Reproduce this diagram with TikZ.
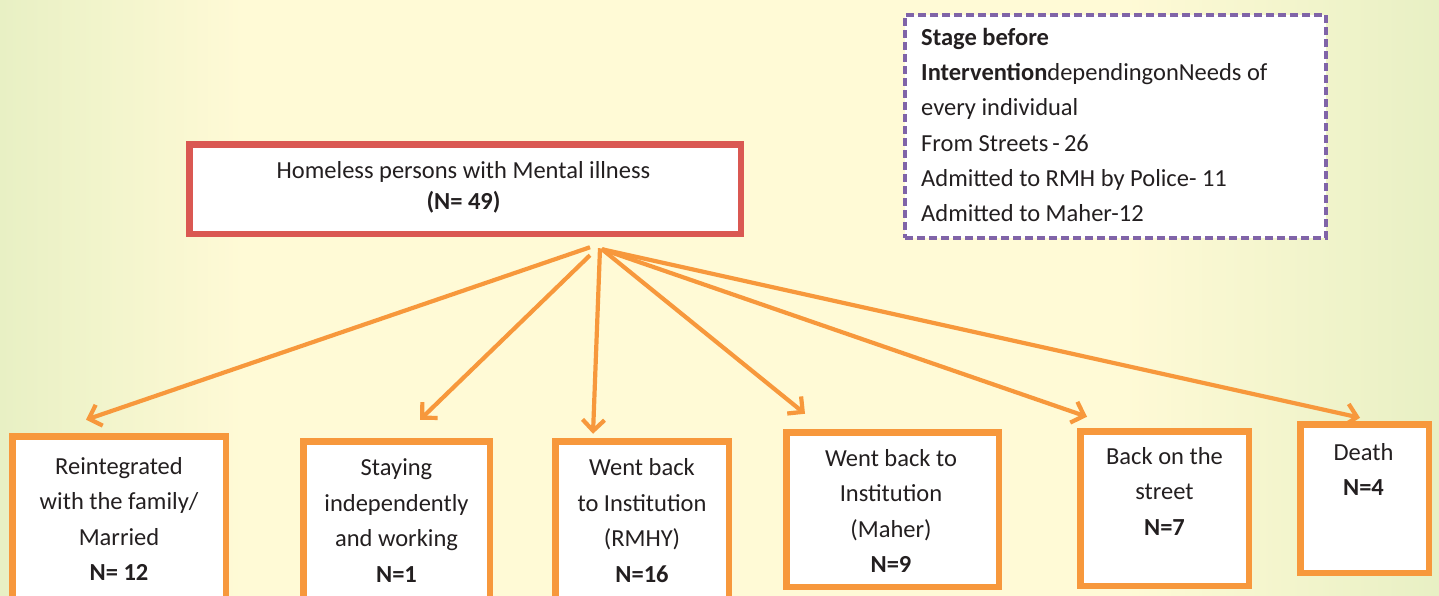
\documentclass[tikz,border=0pt]{standalone}
\usepackage{fontspec}
\setmainfont{Carlito}
\usetikzlibrary{arrows.meta,calc}
\definecolor{bgg}{RGB}{232,240,196}
\definecolor{bgy}{RGB}{255,250,214}
\definecolor{orangeC}{RGB}{247,152,60}
\definecolor{redC}{RGB}{218,88,82}
\definecolor{purpC}{RGB}{128,100,168}
\definecolor{txt}{RGB}{35,31,32}
\pgfdeclarehorizontalshading{bgshade}{100bp}{color(0bp)=(bgg); color(25bp)=(bgg); color(33.5bp)=(bgy); color(64bp)=(bgy); color(75bp)=(bgg); color(100bp)=(bgg)}
\tikzset{
  obox/.style={draw=orangeC, line width=6.5pt, fill=white, inner sep=0pt},
  mainbox/.style={draw=redC, line width=6.5pt, fill=white, inner sep=0pt},
  legbox/.style={draw=purpC, line width=4pt, fill=white, inner sep=0pt, dash pattern=on 8pt off 4pt},
  btext/.style={text=txt, inner sep=0pt, anchor=north, align=center, font=\fontsize{24.5}{35.5}\selectfont},
  conn/.style={draw=orangeC, line width=4.2pt, -{Straight Barb[length=11pt,width=22pt,line width=4.2pt]}}
}
\begin{document}
\begin{tikzpicture}[x=1pt,y=-1pt]
\useasboundingbox (0,0) rectangle (1439,595);
\clip (0,0) rectangle (1439,595);
\shade[shading=bgshade] (0,0) rectangle (1439,595);

% main box
\node[mainbox, minimum width=551.5pt, minimum height=89.5pt] (main) at (465,189) {};
\node[text=txt, inner sep=0pt, anchor=north, align=center, font=\fontsize{24.5}{31}\selectfont] (maintext) at (463.5,178-21.7)
  {\strut Homeless persons with Mental illness\\ \textbf{(N= 49)}};

% legend
\node[legbox, minimum width=421pt, minimum height=223pt] (legend) at (1115.5,126.5) {};
\node[text=txt, inner sep=0pt, anchor=north west, align=left, font=\fontsize{24.5}{35.3}\selectfont] (legtext) at (921,45-24.71)
  {\strut\textbf{Stage before}\\ \textbf{Intervention}dependingonNeeds of\\ every individual\\ From Streets\,-\,26\\ Admitted to RMH by Police- 11\\ Admitted to Maher-12};

% outcome boxes
\node[obox, minimum width=213.5pt, minimum height=165.5pt] (b1) at (119,519) {};
\node[obox, minimum width=186.5pt, minimum height=160.5pt] (b2) at (396.5,521.5) {};
\node[obox, minimum width=173.5pt, minimum height=160.5pt] (b3) at (642,521.5) {};
\node[obox, minimum width=212.5pt, minimum height=154.5pt] (b4) at (892.5,509.5) {};
\node[obox, minimum width=168.5pt, minimum height=154.5pt] (b5) at (1164.5,508.5) {};
\node[obox, minimum width=128.5pt, minimum height=148.5pt] (b6) at (1364.5,498.5) {};

\node[btext] (t1) at (119,474-24.85) {\strut Reintegrated\\ with the family/\\ Married\\ \textbf{N= 12}};
\node[btext] (t2) at (396.5,475.5-24.85) {\strut Staying\\ independently\\ and working\\ \textbf{N=1}};
\node[btext] (t3) at (642,475.5-24.85) {\strut Went back\\ to Institution\\ (RMHY)\\ \textbf{N=16}};
\node[btext] (t4) at (891,466-24.85) {\strut Went back to\\ Institution\\ (Maher)\\ \textbf{N=9}};
\node[btext] (t5) at (1164.5,464-24.85) {\strut Back on the\\ street\\ \textbf{N=7}};
\node[btext] (t6) at (1363.5,460-24.85) {\strut Death\\ \textbf{N=4}};

% connectors
\draw[conn] ($(main.south)+(125,10.25)$) -- ($(b1.north)+(-33,-13.25)$);
\draw[conn] ($(main.south)+(125,18.25)$) -- ($(b2.north)+(23.5,-18.25)$);
\draw[conn] ($(main.south)+(135,11.25)$) -- ($(b3.north)+(-49,-4.25)$);
\draw[conn] ($(main.south)+(137,12.25)$) -- ($(b4.north)+(-87.5,-15.25)$);
\draw[conn] ($(main.south)+(137,12.25)$) -- ($(b5.north)+(-77.5,-11.25)$);
\draw[conn] ($(main.south)+(137,12.25)$) -- ($(b6.north)+(-4.5,-3.25)$);
\end{tikzpicture}
\end{document}
